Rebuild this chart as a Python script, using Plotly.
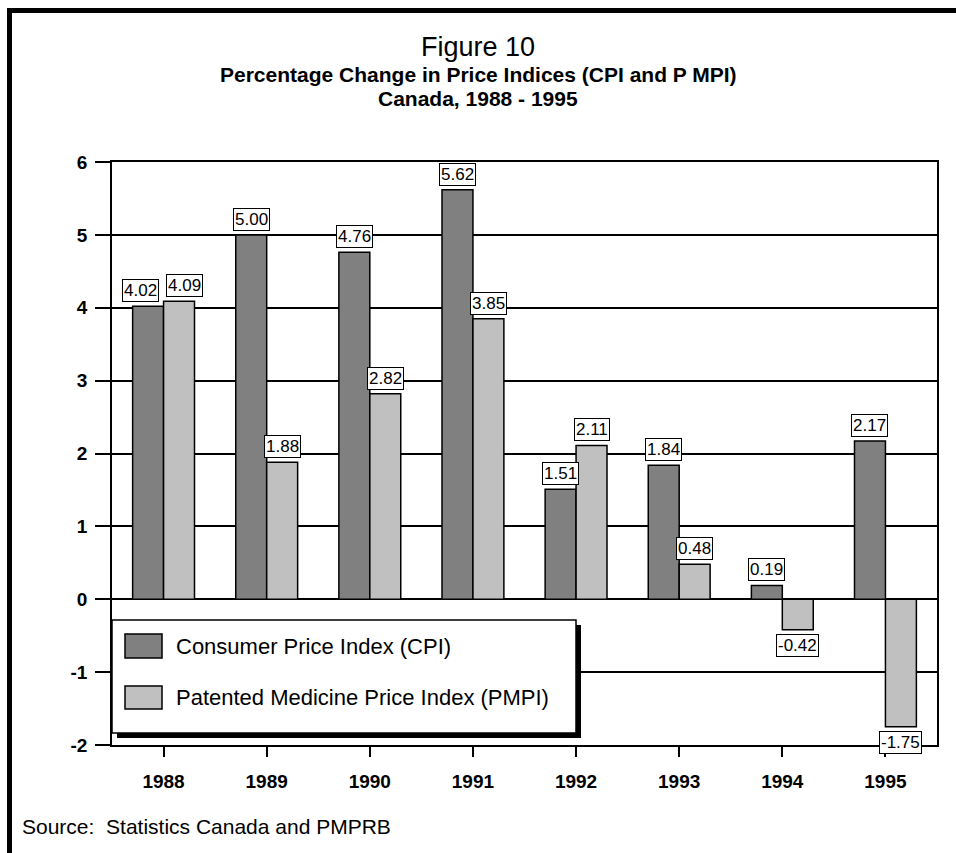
import plotly.graph_objects as go

# ---- data ----
years = ["1988", "1989", "1990", "1991", "1992", "1993", "1994", "1995"]
cpi = [4.02, 5.00, 4.76, 5.62, 1.51, 1.84, 0.19, 2.17]
pmpi = [4.09, 1.88, 2.82, 3.85, 2.11, 0.48, -0.42, -1.75]
series_names = ["Consumer Price Index (CPI)", "Patented Medicine Price Index (PMPI)"]
y_ticks = [-2, -1, 0, 1, 2, 3, 4, 5, 6]

DARK = "#808080"
LIGHT = "#c0c0c0"
FONT = "Liberation Sans, Arial, sans-serif"

W, H = 956, 853
PL, PR, PT, PB = 112, 937, 162, 745  # plot area in pixels


def px(x):
    return (x - PL) / (PR - PL)


def py(y):
    return (PB - y) / (PB - PT)


idx = list(range(len(years)))

fig = go.Figure()
fig.add_trace(go.Bar(x=idx, y=cpi, name=series_names[0], marker=dict(color=DARK, line=dict(color="black", width=1.5)),
                     showlegend=False))
fig.add_trace(go.Bar(x=idx, y=pmpi, name=series_names[1], marker=dict(color=LIGHT, line=dict(color="black", width=1.5)),
                     showlegend=False))

annotations = []
half = 0.15
for i, (a, b) in enumerate(zip(cpi, pmpi)):
    close = abs(a - b) < 0.4
    for k, v in enumerate((a, b)):
        xs = 0
        if close:
            xs = -8 if k == 0 else 5
        annotations.append(dict(
            x=i - half if k == 0 else i + half, y=v, xref="x", yref="y",
            text=f"{v:.2f}", showarrow=False,
            yanchor="bottom" if v >= 0 else "top",
            yshift=4 if v >= 0 else -4, xshift=xs,
            bgcolor="white", bordercolor="black", borderwidth=1, borderpad=1,
            font=dict(family=FONT, size=17, color="black"),
        ))

# titles
annotations += [
    dict(x=px(478), y=py(47), xref="paper", yref="paper", text="Figure 10", showarrow=False,
         font=dict(family=FONT, size=27, color="black"), xanchor="center", yanchor="middle"),
    dict(x=px(478), y=py(74), xref="paper", yref="paper",
         text="<b>Percentage Change in Price Indices (CPI and P MPI)</b>", showarrow=False,
         font=dict(family=FONT, size=21, color="black"), xanchor="center", yanchor="middle"),
    dict(x=px(478), y=py(98), xref="paper", yref="paper", text="<b>Canada, 1988 - 1995</b>", showarrow=False,
         font=dict(family=FONT, size=21, color="black"), xanchor="center", yanchor="middle"),
    dict(x=px(20), y=py(826), xref="paper", yref="paper", text="Source:  Statistics Canada and PMPRB",
         showarrow=False, font=dict(family=FONT, size=21, color="black"), xanchor="left", yanchor="middle"),
]

shapes = [
    # outer border
    dict(type="rect", xref="paper", yref="paper", x0=px(9.5), x1=px(1000), y0=py(900), y1=py(10.5),
         line=dict(color="black", width=5), fillcolor="rgba(0,0,0,0)", layer="above"),
    # legend shadow
    dict(type="rect", xref="paper", yref="paper", x0=px(117), x1=px(581), y0=py(738), y1=py(625),
         line=dict(width=0), fillcolor="black", layer="above"),
    # legend box
    dict(type="rect", xref="paper", yref="paper", x0=px(112), x1=px(576), y0=py(733), y1=py(620),
         line=dict(color="black", width=1.5), fillcolor="white", layer="above"),
]
sw = [(634, 658, DARK), (686, 709, LIGHT)]
for (y0, y1, col), name in zip(sw, series_names):
    shapes.append(dict(type="rect", xref="paper", yref="paper", x0=px(125), x1=px(162), y0=py(y1), y1=py(y0),
                       line=dict(color="black", width=1.5), fillcolor=col, layer="above"))
    annotations.append(dict(x=px(174), y=py((y0 + y1) / 2), xref="paper", yref="paper", text=name,
                            showarrow=False, xanchor="left", yanchor="middle",
                            font=dict(family=FONT, size=22, color="black")))

fig.update_layout(
    width=W, height=H,
    margin=dict(l=PL, r=W - PR, t=PT, b=H - PB, pad=0),
    paper_bgcolor="white", plot_bgcolor="white",
    barmode="group", bargap=0.4, bargroupgap=0,
    annotations=annotations, shapes=shapes,
    showlegend=False,
    font=dict(family=FONT, color="black"),
)
fig.update_xaxes(
    range=[-0.5, len(years) - 0.5], tickmode="array", tickvals=idx, ticktext=years,
    ticks="outside", ticklen=10, tickwidth=1.5, tickcolor="black",
    showline=True, linecolor="black", linewidth=1.5, mirror=True,
    showgrid=False, zeroline=False,
    tickfont=dict(family=FONT, size=19, color="black", weight="bold"),
    ticklabelstandoff=8,
)
fig.update_yaxes(
    range=[-2, 6], tickmode="array", tickvals=y_ticks, ticktext=[str(t) for t in y_ticks],
    ticks="outside", ticklen=15, tickwidth=1.5, tickcolor="black",
    showline=True, linecolor="black", linewidth=1.5, mirror=True,
    showgrid=True, gridcolor="black", gridwidth=1.5,
    zeroline=True, zerolinecolor="black", zerolinewidth=1.5,
    tickfont=dict(family=FONT, size=19, color="black", weight="bold"),
    ticklabelstandoff=4,
)

fig.write_html("out.html", config={"displayModeBar": False},
               post_script="document.body.style.margin='0';")
